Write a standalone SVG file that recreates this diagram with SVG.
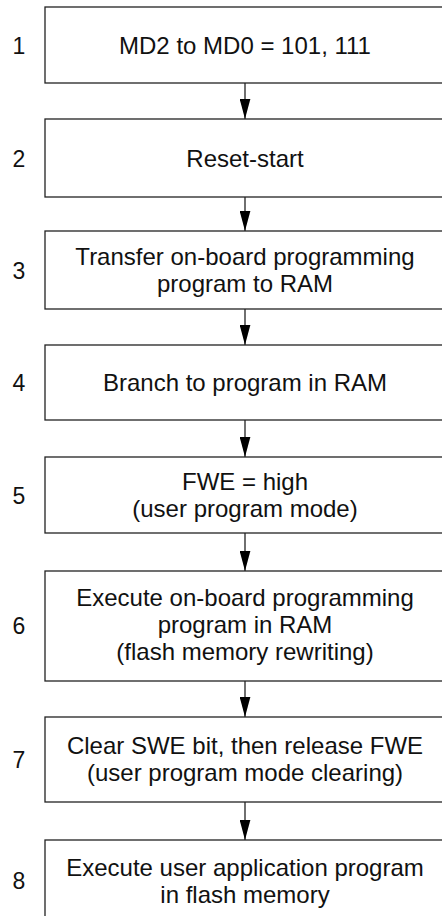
<svg xmlns="http://www.w3.org/2000/svg" width="442" height="916" viewBox="0 0 442 916">
<defs>
<style>
.box{fill:#fff;stroke:#222;stroke-width:1.3}
.t{font-family:"Liberation Sans",Arial,sans-serif;font-size:24px;fill:#111;text-anchor:middle}
.n{font-family:"Liberation Sans",Arial,sans-serif;font-size:23px;fill:#111;text-anchor:middle}
.c{stroke:#222;stroke-width:1.3;fill:none}
</style>
<marker id="ah" markerUnits="userSpaceOnUse" markerWidth="21" markerHeight="11" refX="20.5" refY="5.5" orient="auto" viewBox="0 0 21 11">
<path d="M0,0 L20.5,5.5 L0,11 Z" fill="#000"/>
</marker>
</defs>
<rect width="442" height="916" fill="#fff"/>
<g id="connectors">
<line class="c" x1="245" y1="83" x2="245" y2="119" marker-end="url(#ah)"/>
<line class="c" x1="245" y1="197" x2="245" y2="231" marker-end="url(#ah)"/>
<line class="c" x1="245" y1="309" x2="245" y2="345" marker-end="url(#ah)"/>
<line class="c" x1="245" y1="420" x2="245" y2="457" marker-end="url(#ah)"/>
<line class="c" x1="245" y1="533" x2="245" y2="571" marker-end="url(#ah)"/>
<line class="c" x1="245" y1="681" x2="245" y2="717" marker-end="url(#ah)"/>
<line class="c" x1="245" y1="802" x2="245" y2="840" marker-end="url(#ah)"/>
</g>
<g id="step1">
<rect class="box" x="45" y="7" width="410" height="76"/>
<text class="n" x="19" y="54">1</text>
<text class="t" x="245" y="54">MD2 to MD0 = 101, 111</text>
</g>
<g id="step2">
<rect class="box" x="45" y="119" width="410" height="78"/>
<text class="n" x="19" y="167">2</text>
<text class="t" x="245" y="167">Reset-start</text>
</g>
<g id="step3">
<rect class="box" x="45" y="231" width="410" height="78"/>
<text class="n" x="19" y="279">3</text>
<text class="t" x="245" y="265">Transfer on-board programming</text>
<text class="t" x="245" y="292">program to RAM</text>
</g>
<g id="step4">
<rect class="box" x="45" y="345" width="410" height="75"/>
<text class="n" x="19" y="391">4</text>
<text class="t" x="245" y="391">Branch to program in RAM</text>
</g>
<g id="step5">
<rect class="box" x="45" y="457" width="410" height="76"/>
<text class="n" x="19" y="504">5</text>
<text class="t" x="245" y="490">FWE = high</text>
<text class="t" x="245" y="517">(user program mode)</text>
</g>
<g id="step6">
<rect class="box" x="45" y="571" width="410" height="110"/>
<text class="n" x="19" y="634">6</text>
<text class="t" x="245" y="606">Execute on-board programming</text>
<text class="t" x="245" y="633">program in RAM</text>
<text class="t" x="245" y="660">(flash memory rewriting)</text>
</g>
<g id="step7">
<rect class="box" x="45" y="717" width="410" height="85"/>
<text class="n" x="19" y="768">7</text>
<text class="t" x="245" y="754">Clear SWE bit, then release FWE</text>
<text class="t" x="245" y="781">(user program mode clearing)</text>
</g>
<g id="step8">
<rect class="box" x="45" y="840" width="410" height="90"/>
<text class="n" x="19" y="889">8</text>
<text class="t" x="245" y="876">Execute user application program</text>
<text class="t" x="245" y="903">in flash memory</text>
</g>
</svg>
